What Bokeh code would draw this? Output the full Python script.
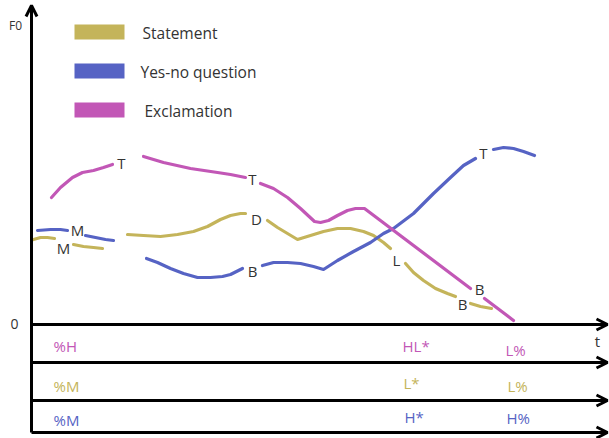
from bokeh.plotting import figure
from bokeh.models import Range1d, Arrow, OpenHead
from bokeh.core.properties import value
from bokeh.embed import file_html
from bokeh.resources import INLINE

# ---------------- data ----------------
series_names = ["Statement", "Yes-no question", "Exclamation"]

# Statement (F0 contour, broken into drawn segments)
statement_t = [
    [2, 9, 16, 23],
    [42, 52, 62, 71],
    [96, 112, 129, 146, 162, 176, 189, 199, 209, 214],
    [236, 246, 256, 266, 279, 292, 306, 319, 332, 342, 352, 359],
    [374, 382, 392, 404, 416, 424],
    [439, 449, 460],
]
statement_f0 = [
    [85, 87, 87, 86],
    [80, 78, 77, 76],
    [90, 89, 88, 90, 93, 98, 105, 109, 111, 111],
    [104, 97, 91, 85, 89, 93, 96, 96, 93, 89, 82, 76],
    [61, 52, 44, 36, 31, 28],
    [21, 18, 16],
]

# Yes-no question
question_t = [
    [6, 19, 29, 36],
    [54, 64, 74, 82],
    [115, 126, 139, 152, 166, 179, 191, 199, 211],
    [231, 242, 256, 269, 282, 292, 306, 322, 339, 352, 362, 382, 402, 419, 432, 444],
    [462, 472, 482, 492, 503],
]
question_f0 = [
    [94, 95, 95, 94],
    [89, 87, 85, 84],
    [66, 62, 56, 51, 47, 47, 48, 50, 56],
    [59, 62, 62, 61, 58, 55, 64, 73, 82, 91, 96, 111, 131, 147, 159, 166],
    [175, 177, 176, 173, 169],
]

# Exclamation
exclam_t = [
    [20, 29, 41, 51, 62, 72, 81],
    [112, 132, 159, 186, 199, 214],
    [229, 242, 256, 269, 283, 289, 297, 306, 316, 324, 333, 439],
    [453, 482],
]
exclam_f0 = [
    [127, 137, 147, 152, 154, 157, 160],
    [168, 162, 156, 152, 150, 147],
    [141, 136, 127, 116, 103, 102, 104, 109, 114, 116, 116, 36],
    [26, 4],
]

# contour point labels
statement_marks = ["M", "D", "L", "B"]
statement_mark_t = [32, 225, 365, 431]
statement_mark_f0 = [77, 106, 65, 21]

question_marks = ["M", "B", "T"]
question_mark_t = [46, 221, 452]
question_mark_f0 = [95, 54, 172]

exclam_marks = ["T", "T", "B"]
exclam_mark_t = [90, 221, 448]
exclam_mark_f0 = [162, 146, 36]

# tone tiers (labels)
exclam_tones = ["%H", "HL*", "L%"]
statement_tones = ["%M", "L*", "L%"]
question_tones = ["%M", "H*", "H%"]

# ---------------- styling / layout ----------------
C_STATE = "#C4B45A"
C_QUEST = "#5663C4"
C_EXCL = "#C257B6"
TXT = "#333333"
FONT = value("Open Sans")

p = figure(width=609, height=438, output_backend="svg", toolbar_location=None,
           x_range=Range1d(-31, 578), y_range=Range1d(-114, 324),
           min_border=0, min_border_left=0, min_border_right=0,
           min_border_top=0, min_border_bottom=0)
p.xaxis.visible = False
p.yaxis.visible = False
p.xgrid.visible = False
p.ygrid.visible = False
p.outline_line_color = None
p.background_fill_color = "white"
p.border_fill_color = "white"

# axes / tiers
tier_levels = [0, -38, -76, -108]
p.add_layout(Arrow(end=OpenHead(size=11, line_width=3, line_color="black"),
                   x_start=0, y_start=-108, x_end=0, y_end=319,
                   line_width=3, line_color="black"))
for lv in tier_levels:
    p.add_layout(Arrow(end=OpenHead(size=11, line_width=3, line_color="black"),
                       x_start=0, y_start=lv, x_end=576, y_end=lv,
                       line_width=3, line_color="black"))

# contours
for ts, fs, col in [(statement_t, statement_f0, C_STATE),
                    (question_t, question_f0, C_QUEST),
                    (exclam_t, exclam_f0, C_EXCL)]:
    p.multi_line(xs=ts, ys=fs, line_color=col, line_width=3.2,
                 line_cap="round", line_join="round")

# contour labels
for txt, ts, fs in [(statement_marks, statement_mark_t, statement_mark_f0),
                    (question_marks, question_mark_t, question_mark_f0),
                    (exclam_marks, exclam_mark_t, exclam_mark_f0)]:
    p.text(x=ts, y=fs, text=txt, text_font=FONT, text_font_size="15px",
           text_color=TXT, text_align="center", text_baseline="middle")

# legend
legend_colors = [C_STATE, C_QUEST, C_EXCL]
legend_top = [300, 261, 222]
legend_text_x = [111, 109, 113]
p.quad(left=[43] * 3, right=[93] * 3, top=legend_top,
       bottom=[v - 15 for v in legend_top], fill_color=legend_colors,
       line_color=None)
p.text(x=legend_text_x, y=[v - 8 for v in legend_top], text=series_names,
       text_font=FONT, text_font_size="15.5px", text_color=TXT,
       text_align="left", text_baseline="middle")

# tier labels
tier_rows = [(exclam_tones, C_EXCL, [-21, -21, -25]),
             (statement_tones, C_STATE, [-61, -58, -61]),
             (question_tones, C_QUEST, [-95, -92, -93])]
tier_x = [[22, 371, 474], [22, 372, 476], [22, 373, 475]]
for (labels, col, ys), xs in zip(tier_rows, tier_x):
    p.text(x=xs, y=ys, text=labels, text_font=FONT, text_font_size="15px",
           text_color=col, text_align="left", text_baseline="middle")

# axis texts
p.text(x=[-16], y=[299], text=["F0"], text_font=FONT, text_font_size="12px",
       text_color=TXT, text_align="center", text_baseline="middle")
p.text(x=[-17], y=[1], text=["0"], text_font=FONT, text_font_size="14px",
       text_color=TXT, text_align="center", text_baseline="middle")
p.text(x=[566], y=[-16], text=["t"], text_font=FONT, text_font_size="15px",
       text_color=TXT, text_align="center", text_baseline="middle")

open("out.html", "w").write(file_html(p, INLINE))
